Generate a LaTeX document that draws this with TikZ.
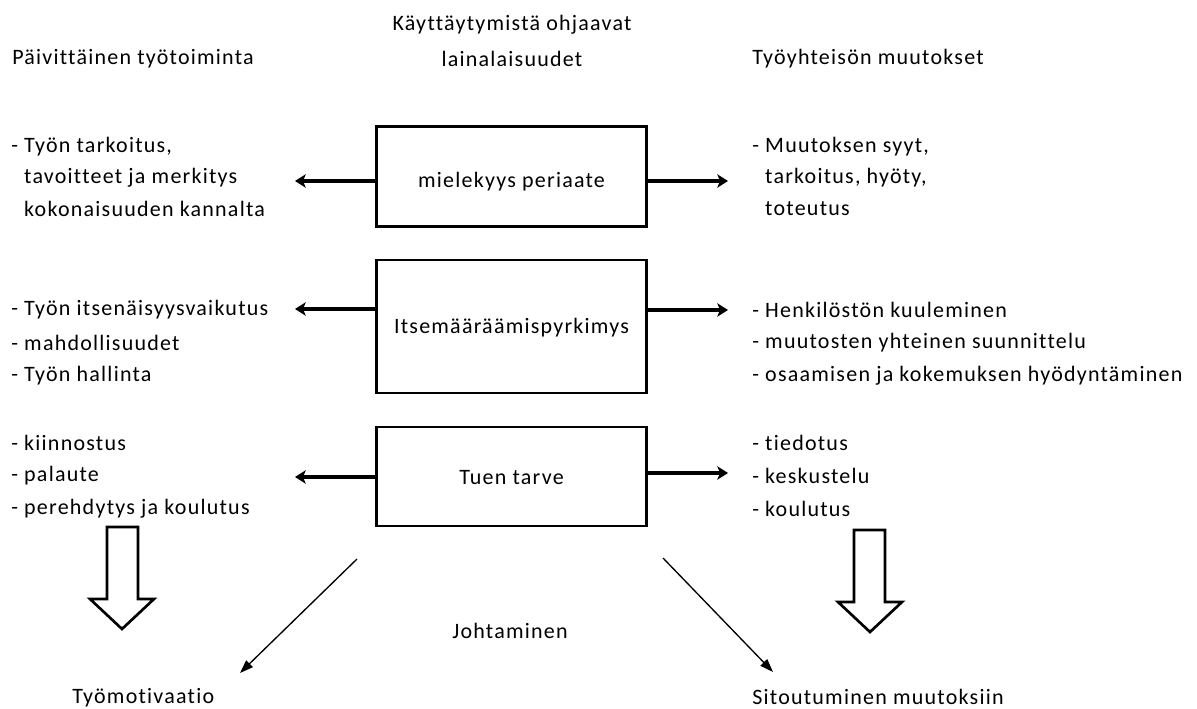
\documentclass[tikz,border=0pt]{standalone}
\usepackage{fontspec}
\setmainfont[Ligatures={NoCommon}]{Carlito}
\newfontfamily\widefont[LetterSpace=5.6,Ligatures={NoCommon}]{Carlito}
\usetikzlibrary{arrows.meta}
\begin{document}
\begin{tikzpicture}[x=0.75pt,y=-0.75pt,
  txt/.style={font=\widefont\fontsize{16.5}{16.5}\selectfont, inner sep=0pt, anchor=west},
  ctxt/.style={font=\widefont\fontsize{16.5}{16.5}\selectfont, inner sep=0pt},
  boxst/.style={draw, line width=2.2pt, minimum width=270*0.75pt, inner sep=0pt},
  sidearrow/.style={line width=3pt, -{Stealth[length=8pt,width=10pt,inset=2pt]}},
  thinarrow/.style={line width=1pt, -{Triangle[length=10pt,width=7pt]}},
  hollow/.style={draw, line width=2pt, line join=miter, fill=white}
]
\useasboundingbox (0,0) rectangle (1197,709);
\fill[white] (0,0) rectangle (1197,709);

% headers
\node[txt] (hL) at (12,59) {Päivittäinen työtoiminta};
\node[ctxt] (hC1) at (512,25) {Käyttäytymistä ohjaavat};
\node[ctxt] (hC2) at (512,59) {lainalaisuudet};
\node[txt] (hR) at (752,59) {Työyhteisön muutokset};

% boxes
\node[boxst, minimum height=100*0.75pt] (b1) at (511.5,176.5) {};
\node[ctxt] (t1) at (511.5,182) {mielekyys periaate};
\node[boxst, minimum height=133*0.75pt] (b2) at (511.5,326.5) {};
\node[ctxt] (t2) at (511.5,328) {Itsemääräämispyrkimys};
\node[boxst, minimum height=99*0.75pt] (b3) at (511.5,476.5) {};
\node[ctxt] (t3) at (511.5,478) {Tuen tarve};

% left lists
\node[txt] (l11) at (11,147) {- Työn tarkoitus,};
\node[txt] (l12) at (11,178) {\phantom{-} tavoitteet ja merkitys};
\node[txt] (l13) at (11,209) {\phantom{-} kokonaisuuden kannalta};
\node[txt] (l21) at (11,310) {- Työn itsenäisyysvaikutus};
\node[txt] (l22) at (11,343) {- mahdollisuudet};
\node[txt] (l23) at (11,376) {- Työn hallinta};
\node[txt] (l31) at (11,443) {- kiinnostus};
\node[txt] (l32) at (11,476) {- palaute};
\node[txt] (l33) at (11,509) {- perehdytys ja koulutus};

% right lists
\node[txt] (r11) at (752,147) {- Muutoksen syyt,};
\node[txt] (r12) at (752,178) {\phantom{-} tarkoitus, hyöty,};
\node[txt] (r13) at (752,209) {\phantom{-} toteutus};
\node[txt] (r21) at (752,310) {- Henkilöstön kuuleminen};
\node[txt] (r22) at (752,343) {- muutosten yhteinen suunnittelu};
\node[txt] (r23) at (752,376) {- osaamisen ja kokemuksen hyödyntäminen};
\node[txt] (r31) at (752,443) {- tiedotus};
\node[txt] (r32) at (752,476) {- keskustelu};
\node[txt] (r33) at (752,509) {- koulutus};

% bottom texts
\node[ctxt] (joht) at (510,631) {Johtaminen};
\node[txt] (mot) at (72,698) {Työmotivaatio};
\node[txt] (sit) at (752,697) {Sitoutuminen muutoksiin};

% side arrow tips
\coordinate (a1l) at (295,181);
\coordinate (a1r) at (728,181);
\coordinate (a2l) at (295,309);
\coordinate (a2r) at (728,310);
\coordinate (a3l) at (295,477);
\coordinate (a3r) at (728,473);
\draw[sidearrow] (a1l -| b1.west) -- (a1l);
\draw[sidearrow] (a1r -| b1.east) -- (a1r);
\draw[sidearrow] (a2l -| b2.west) -- (a2l);
\draw[sidearrow] (a2r -| b2.east) -- (a2r);
\draw[sidearrow] (a3l -| b3.west) -- (a3l);
\draw[sidearrow] (a3r -| b3.east) -- (a3r);

% diagonal arrows
\coordinate (dls) at (357,559);
\coordinate (dle) at (240,673);
\coordinate (drs) at (663,558);
\coordinate (dre) at (773,672);
\draw[thinarrow] (dls) -- (dle);
\draw[thinarrow] (drs) -- (dre);

% hollow block arrows
\draw[hollow] (107,527) -- (138,527) -- (138,599) -- (154,599) -- (122,629) -- (90,599) -- (107,599) -- cycle;
\draw[hollow] (854,530) -- (885,530) -- (885,602) -- (902,602) -- (870,632) -- (838,602) -- (854,602) -- cycle;
\end{tikzpicture}
\end{document}
